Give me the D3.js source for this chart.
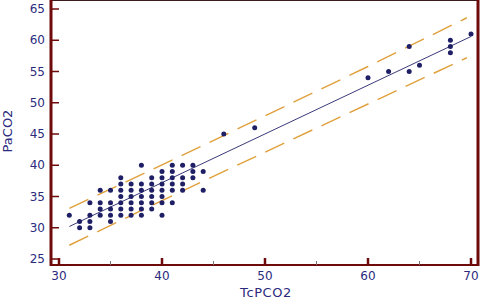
<!DOCTYPE html>
<html>
<head>
<meta charset="utf-8">
<script src="https://cdn.jsdelivr.net/npm/d3@7"></script>
<style>
  body { margin: 0; background: #fff; }
  text { font-family: "DejaVu Sans", Verdana, sans-serif; }
</style>
</head>
<body>
<svg width="482" height="300"></svg>
<script>
// measured values (TcPCO2 vs PaCO2)
var tcpco2 = [31,
  32, 32,
  33, 33, 33, 33,
  34, 34, 34, 34,
  35, 35, 35, 35, 35,
  36, 36, 36, 36, 36, 36, 36,
  37, 37, 37, 37, 37, 37,
  38, 38, 38, 38, 38, 38, 38,
  39, 39, 39, 39, 39, 39,
  40, 40, 40, 40, 40, 40, 40,
  41, 41, 41, 41, 41, 41,
  42, 42, 42, 42,
  43, 43, 43,
  44, 44,
  46, 49, 60, 62, 64, 64, 65, 68, 68, 68, 70];
var paco2 = [32,
  31, 30,
  34, 32, 31, 30,
  36, 34, 33, 32,
  36, 34, 33, 32, 31,
  38, 37, 36, 35, 34, 33, 32,
  37, 36, 35, 34, 33, 32,
  40, 37, 36, 35, 34, 33, 32,
  38, 37, 36, 35, 34, 33,
  39, 38, 37, 36, 35, 34, 32,
  40, 39, 38, 37, 36, 34,
  40, 38, 37, 36,
  40, 39, 38,
  39, 36,
  45, 46, 54, 55, 59, 55, 56, 60, 59, 58, 61];

// regression line and 95% prediction band
var fitX = [31, 70];
var fitY = [30.2, 60.6];
var bandX = [31, 40, 50, 60, 69.6];
var upperBand = [33.1, 40.05, 47.9, 55.8, 63.6];
var lowerBand = [27.2, 34.35, 42.1, 49.8, 57.2];

var xTicks = [30, 40, 50, 60, 70];
var xMinor = [35, 45, 55, 65];
var yTicks = [25, 30, 35, 40, 45, 50, 55, 60, 65];

var svg = d3.select("svg"),
    left = 51, right = 478, top = 3, bottom = 265;

var x = d3.scaleLinear().domain([30, 70]).range([59, 471]);
var y = d3.scaleLinear().domain([25, 65]).range([259, 9]);

var frame = "#6e0a0a", labelColor = "#2b2b7e", navy = "#1f1f66", orange = "#e0a03c";

// bands
var line = d3.line().x(function (d) { return x(d[0]); }).y(function (d) { return y(d[1]); });

[upperBand, lowerBand].forEach(function (b) {
    svg.append("path")
        .datum(bandX.map(function (v, i) { return [v, b[i]]; }))
        .attr("d", line)
        .attr("fill", "none")
        .attr("stroke", orange)
        .attr("stroke-width", 1.4)
        .attr("stroke-dasharray", "21,10");
});

svg.append("path")
    .datum(fitX.map(function (v, i) { return [v, fitY[i]]; }))
    .attr("d", line)
    .attr("fill", "none")
    .attr("stroke", "#3a3a7a")
    .attr("stroke-width", 1);

svg.append("g")
    .selectAll("circle")
    .data(tcpco2)
    .enter().append("circle")
    .attr("cx", function (d) { return x(d); })
    .attr("cy", function (d, i) { return y(paco2[i]); })
    .attr("r", 2.5)
    .attr("fill", navy);

// frame
svg.append("line").attr("x1", left).attr("x2", right).attr("y1", top).attr("y2", top)
    .attr("stroke", "#3a1c1c").attr("stroke-width", 2);
svg.append("line").attr("x1", left).attr("x2", right).attr("y1", bottom).attr("y2", bottom)
    .attr("stroke", frame).attr("stroke-width", 2);
svg.append("line").attr("x1", left).attr("x2", left).attr("y1", top - 1).attr("y2", bottom + 1)
    .attr("stroke", frame).attr("stroke-width", 3);
svg.append("line").attr("x1", right).attr("x2", right).attr("y1", top - 1).attr("y2", bottom + 1)
    .attr("stroke", frame).attr("stroke-width", 3);

// y ticks
svg.append("g").selectAll("line").data(yTicks).enter().append("line")
    .attr("x1", left).attr("x2", left + 8)
    .attr("y1", function (d) { return y(d); }).attr("y2", function (d) { return y(d); })
    .attr("stroke", frame).attr("stroke-width", 1.5);
svg.append("g").selectAll("text").data(yTicks).enter().append("text")
    .attr("x", 45).attr("y", function (d) { return y(d) + 4; })
    .attr("text-anchor", "end")
    .attr("font-size", 12)
    .attr("fill", labelColor)
    .text(function (d) { return d; });

// x ticks
svg.append("g").selectAll("line").data(xTicks).enter().append("line")
    .attr("x1", function (d) { return x(d); }).attr("x2", function (d) { return x(d); })
    .attr("y1", bottom).attr("y2", bottom - 7)
    .attr("stroke", frame).attr("stroke-width", 2.5);
svg.append("g").selectAll("line").data(xMinor).enter().append("line")
    .attr("x1", function (d) { return x(d); }).attr("x2", function (d) { return x(d); })
    .attr("y1", bottom).attr("y2", bottom - 4)
    .attr("stroke", "#777").attr("stroke-width", 1);
svg.append("g").selectAll("text").data(xTicks).enter().append("text")
    .attr("x", function (d) { return x(d); }).attr("y", 280)
    .attr("text-anchor", "middle")
    .attr("font-size", 12)
    .attr("fill", labelColor)
    .text(function (d) { return d; });

// axis titles
svg.append("text")
    .attr("x", 266).attr("y", 297)
    .attr("text-anchor", "middle")
    .attr("font-size", 13)
    .attr("letter-spacing", 0.6)
    .attr("fill", labelColor)
    .text("TcPCO2");
svg.append("text")
    .attr("transform", "translate(12,131) rotate(-90)")
    .attr("text-anchor", "middle")
    .attr("font-size", 13)
    .attr("fill", labelColor)
    .text("PaCO2");
</script>
</body>
</html>
